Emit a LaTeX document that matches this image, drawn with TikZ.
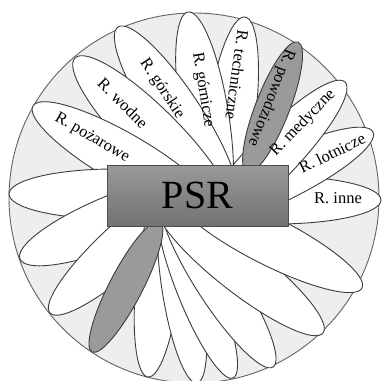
\documentclass[tikz,border=0pt]{standalone}
\usepackage{fontspec}
\setmainfont{Liberation Serif}
\definecolor{ringfill}{HTML}{EEEEEE}
\definecolor{petalline}{HTML}{3C3C3C}
\definecolor{darkpetal}{HTML}{9A9A9A}
\newcommand\petal[6]{%
  \pgfmathsetmacro\pcx{#1+0.5*(#4)*cos(#3)}%
  \pgfmathsetmacro\pcy{#2+0.5*(#4)*sin(#3)}%
  \pgfmathsetmacro\prx{0.5*(#4)}%
  \draw[petal,fill=#6,rotate around={-(#3):(\pcx,\pcy)}] (\pcx,\pcy) ellipse [x radius=\prx pt, y radius=#5 pt];%
}
\begin{document}
\begin{tikzpicture}[x=1pt,y=-1pt,
  petal/.style={draw=petalline, line width=0.9pt},
  lbl/.style={font=\fontsize{16.5}{16.5}\selectfont, inner sep=0pt, text=black},
  psrbox/.style={draw=black!70, line width=0.9pt, top color=black!40, bottom color=black!55,
    minimum width=181pt, minimum height=61pt, inner sep=0pt, font=\fontsize{40}{40}\selectfont}]
\useasboundingbox (0,0) rectangle (382,380);
\begin{scope}
\clip (0,0) rectangle (382,380);
\draw[fill=ringfill, draw=petalline!80, line width=0.9pt] (194,198) circle [radius=185pt];
% upper group
\petal{245}{17}{97.8}{210}{24}{white}
\petal{188}{12}{80.9}{210}{24}{white}
\petal{118}{27}{56.5}{210}{25}{white}
\petal{75}{58}{45}{220}{27}{white}
\petal{33}{106}{30}{210}{25}{white}
\petal{381}{200}{180}{210}{24}{white}
\petal{373}{132}{154}{210}{24}{white}
\petal{345}{82}{134}{210}{24}{white}
\petal{298}{42}{111.3}{140}{17}{darkpetal}
% lower group
\petal{9}{194}{0}{210}{25}{white}
\petal{20}{259}{-22}{210}{26}{white}
\petal{50}{313}{-42}{210}{24}{white}
\petal{148}{377}{-84}{200}{22}{white}
\petal{197}{383}{-99}{190}{20}{white}
\petal{233}{378}{-112}{190}{20}{white}
\petal{273}{367}{-123}{200}{22}{white}
\petal{323}{333}{-142}{210}{24}{white}
\petal{362}{288}{-153}{210}{24}{white}
\petal{92}{352}{-62.5}{147}{16.5}{darkpetal}
\end{scope}
\node[psrbox] (psr) at (197.5,195.5) {PSR};
\node[lbl, rotate=-30] (lpoz) at (92,138) {R. pożarowe};
\node[lbl, rotate=-45] (lwod) at (123,103) {R. wodne};
\node[lbl, rotate=-56.5] (lgor) at (162,89) {R. górskie};
\node[lbl, rotate=-80.9] (lgrn) at (203,90) {R. górnicze};
\node[lbl, rotate=-97.8] (ltec) at (237,75) {R. techniczne};
\node[lbl, rotate=-111.3] (lpow) at (271,98) {R. powodziowe};
\node[lbl, rotate=46] (lmed) at (303,123) {R. medyczne};
\node[lbl, rotate=26] (llot) at (332,153) {R. lotnicze};
\node[lbl] (linn) at (338,198) {R. inne};
\end{tikzpicture}
\end{document}
